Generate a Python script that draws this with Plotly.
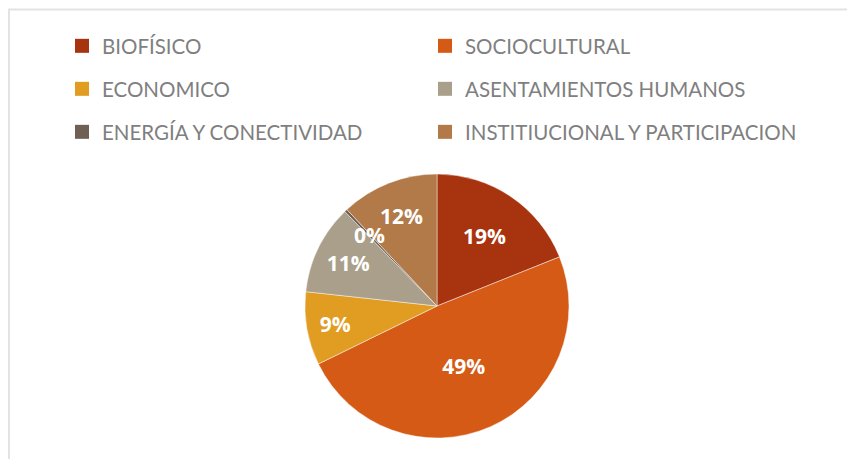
import math
import plotly.graph_objects as go

categories = ["BIOFÍSICO", "SOCIOCULTURAL", "ECONOMICO", "ASENTAMIENTOS HUMANOS",
              "ENERGÍA Y CONECTIVIDAD", "INSTITIUCIONAL Y PARTICIPACION"]
# porcentajes (el 0% es una rebanada mínima)
values = [19, 49, 9, 11, 0.35, 12]
slice_colors = ["#A8340F", "#D55A16", "#E19C22", "#AA9F8A", "#6F5F55", "#B17A48"]

W, H = 855, 459
OFF = 8  # margen del <body> de la página

def px(x):
    return (x - OFF) / W

def py(y):
    return 1 - (y - OFF) / H

fig = go.Figure()

# pastel (coordenadas de pantalla)
cx, cy, r = 437, 306, 132
total = sum(values)
tiny = [v / total < 0.01 for v in values]
fig.add_trace(go.Pie(
    labels=categories,
    values=values,
    sort=False,
    direction="clockwise",
    rotation=0,
    marker=dict(colors=slice_colors, line=dict(color="rgba(255,255,255,0.45)", width=1)),
    texttemplate=["" if t else "%{percent:.0%}" for t in tiny],
    textposition="inside",
    insidetextorientation="horizontal",
    textfont=dict(family="Open Sans", size=21, color="white", weight="bold"),
    domain=dict(x=[px(cx - r), px(cx + r)], y=[py(cy + r), py(cy - r)]),
    showlegend=False,
    hovertemplate="%{label}: %{percent}<extra></extra>",
))

# etiquetas de rebanadas demasiado finas para el texto interior
annotations = []
acc = 0
for v, t in zip(values, tiny):
    mid = (acc + v / 2) / total * 2 * math.pi
    acc += v
    if t:
        annotations.append(dict(
            x=px(cx + 0.74 * r * math.sin(mid)),
            y=py(cy - 0.74 * r * math.cos(mid)),
            xref="paper", yref="paper", showarrow=False,
            text=f"{v / total:.0%}",
            font=dict(family="Open Sans", size=21, color="white", weight="bold"),
        ))

# leyenda: dos columnas, tres filas (una leyenda por entrada)
col_x = [62, 425]
row_y = [46, 89, 132]
legends = {}
for i, (name, color) in enumerate(zip(categories, slice_colors)):
    key = "legend" if i == 0 else f"legend{i + 1}"
    fig.add_trace(go.Scatter(
        x=[None], y=[None], mode="markers", name=name,
        marker=dict(symbol="square", size=14, color=color),
        legend=key,
        hoverinfo="skip",
    ))
    legends[key] = dict(
        orientation="h",
        x=px(col_x[i % 2]), xanchor="left",
        y=py(row_y[i // 2]), yanchor="middle",
        font=dict(family="Lato", size=20.5, color="#7F7F7F"),
        bgcolor="rgba(0,0,0,0)",
        itemclick=False, itemdoubleclick=False,
    )

fig.update_layout(
    width=W, height=H,
    margin=dict(l=0, r=0, t=0, b=0, autoexpand=False),
    paper_bgcolor="white",
    plot_bgcolor="white",
    xaxis=dict(visible=False),
    yaxis=dict(visible=False),
    uniformtext=dict(minsize=21, mode="show"),
    annotations=annotations,
    shapes=[dict(type="rect", xref="paper", yref="paper",
                 x0=1 / W, x1=1.02, y0=-0.02, y1=py(9.5),
                 line=dict(color="#E3E3E3", width=2), layer="below")],
    **legends,
)

fig.write_html("out.html")
